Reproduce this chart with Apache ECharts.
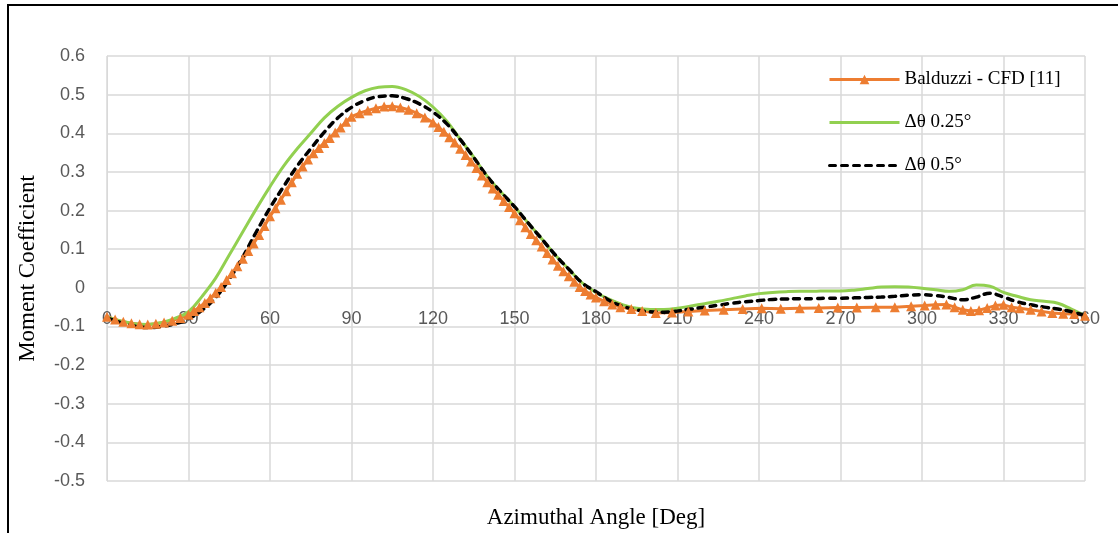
<!DOCTYPE html>
<html>
<head>
<meta charset="utf-8">
<title>Moment Coefficient</title>
<script src="https://cdn.jsdelivr.net/npm/echarts@6/dist/echarts.min.js"></script>
<style>
  html, body { margin: 0; padding: 0; background: #fff; }
  #chart { width: 1118px; height: 533px; }
</style>
</head>
<body>
<div id="chart"></div>
<script>
// Balduzzi - CFD [11]  (angle, Cm)
var balduzzi = [
  [0,-0.075],[3,-0.082],[6,-0.088],[9,-0.092],[12,-0.094],[15,-0.095],[18,-0.093],[21,-0.09],
  [24,-0.085],[27,-0.078],[30,-0.07],[32,-0.06],[34,-0.05],[36,-0.039],[38,-0.027],[40,-0.013],
  [42,0.002],[44,0.02],[46,0.038],[48,0.056],[50,0.075],[52,0.095],[54,0.115],[56,0.137],
  [58,0.16],[60,0.185],[62,0.206],[64,0.228],[66,0.25],[68,0.273],[70,0.295],[72,0.314],
  [74,0.332],[76,0.348],[78,0.362],[80,0.375],[82,0.388],[84,0.402],[86,0.415],[88,0.43],
  [90,0.443],[93,0.452],[96,0.459],[99,0.465],[102,0.469],[105,0.47],[108,0.467],[111,0.461],
  [114,0.452],[117,0.441],[120,0.428],[122,0.416],[124,0.404],[126,0.39],[128,0.376],[130,0.36],
  [132,0.344],[134,0.327],[136,0.31],[138,0.291],[140,0.273],[142,0.257],[144,0.241],[146,0.225],
  [148,0.209],[150,0.193],[152,0.175],[154,0.157],[156,0.139],[158,0.123],[160,0.107],[162,0.09],
  [164,0.073],[166,0.057],[168,0.043],[170,0.03],[172,0.016],[174,0.002],[176,-0.008],[178,-0.017],
  [180,-0.025],[183,-0.035],[186,-0.043],[189,-0.05],[193,-0.055],[197,-0.06],[202,-0.065],[208,-0.064],
  [214,-0.061],[220,-0.059],[227,-0.057],[234,-0.055],[241,-0.053],[248,-0.054],[255,-0.053],[262,-0.052],
  [269,-0.051],[276,-0.051],[283,-0.05],[290,-0.05],[296,-0.048],[301,-0.046],[305,-0.044],[309,-0.043],
  [312,-0.05],[315,-0.057],[318,-0.06],[321,-0.058],[324,-0.052],[327,-0.046],[330,-0.044],[333,-0.05],
  [336,-0.053],[340,-0.057],[344,-0.061],[348,-0.065],[352,-0.067],[356,-0.068],[360,-0.072]
];

// smooth curves sampled every 5 degrees
var angles = [];
for (var a = 0; a <= 360; a += 5) angles.push(a);

var dTheta025 = [
  -0.075,-0.086,-0.093,-0.095,-0.09,-0.079,-0.062,-0.022,0.025,0.085,
  0.145,0.205,0.262,0.315,0.36,0.4,0.44,0.47,0.493,0.51,
  0.519,0.521,0.513,0.495,0.468,0.432,0.385,0.338,0.288,0.248,
  0.21,0.168,0.127,0.085,0.048,0.012,-0.012,-0.03,-0.044,-0.053,
  -0.056,-0.056,-0.053,-0.047,-0.041,-0.035,-0.028,-0.021,-0.015,-0.012,
  -0.01,-0.009,-0.009,-0.008,-0.008,-0.006,-0.002,0.002,0.003,0.002,
  -0.001,-0.005,-0.009,-0.005,0.007,0.004,-0.012,-0.022,-0.031,-0.035,
  -0.04,-0.055,-0.072
];

var dTheta05 = [
  -0.078,-0.09,-0.099,-0.103,-0.1,-0.093,-0.08,-0.058,-0.025,0.022,
  0.08,0.145,0.207,0.262,0.315,0.36,0.403,0.44,0.467,0.485,
  0.495,0.497,0.49,0.476,0.455,0.425,0.384,0.337,0.288,0.248,
  0.21,0.168,0.127,0.085,0.048,0.012,-0.01,-0.033,-0.048,-0.057,
  -0.062,-0.063,-0.06,-0.055,-0.05,-0.045,-0.04,-0.036,-0.033,-0.03,
  -0.029,-0.028,-0.028,-0.027,-0.027,-0.026,-0.025,-0.024,-0.022,-0.019,
  -0.018,-0.02,-0.025,-0.031,-0.024,-0.014,-0.024,-0.036,-0.044,-0.05,
  -0.055,-0.062,-0.072
];

var seriesNames = ['Balduzzi - CFD [11]', '\u0394\u03b8 0.25\u00b0', '\u0394\u03b8 0.5\u00b0'];

function pair(xs, ys) {
  return xs.map(function (x, i) { return [x, ys[i]]; });
}

var chart = echarts.init(document.getElementById('chart'));
chart.setOption({
  backgroundColor: '#fff',
  animation: false,
  graphic: [{
    type: 'polyline',
    shape: { points: [[8, 533], [8, 5], [1118, 5]] },
    style: { stroke: '#000', lineWidth: 2, fill: null },
    silent: true
  }],
  grid: {
    left: 107, right: 33, top: 56, bottom: 52,
    containLabel: false,
    outerBoundsMode: 'none'
  },
  legend: {
    orient: 'vertical',
    left: 823,
    top: 65,
    itemWidth: 70,
    itemHeight: 12,
    itemGap: 24,
    lineStyle: { width: 3 },
    textStyle: { fontFamily: 'Liberation Serif', fontSize: 19, color: '#000' },
    data: [
      { name: seriesNames[0] },
      { name: seriesNames[1], itemStyle: { opacity: 0, color: 'transparent', borderWidth: 0 } },
      { name: seriesNames[2], itemStyle: { opacity: 0, color: 'transparent', borderWidth: 0 } }
    ]
  },
  xAxis: {
    type: 'value',
    min: 0,
    max: 360,
    interval: 30,
    position: 'bottom',
    offset: -193,   // axis sits on the zero line
    name: 'Azimuthal Angle [Deg]',
    nameLocation: 'middle',
    nameGap: 218,
    nameTextStyle: { fontFamily: 'Liberation Serif', fontSize: 23, color: '#000' },
    axisLine: { onZero: false, lineStyle: { color: '#d9d9d9', width: 1.5 } },
    axisTick: { show: false },
    axisLabel: { margin: 22, fontFamily: 'Liberation Sans', fontSize: 18, color: '#595959' },
    splitLine: { show: true, lineStyle: { color: '#d9d9d9', width: 1.5 } }
  },
  yAxis: {
    type: 'value',
    min: -0.5,
    max: 0.6,
    interval: 0.1,
    name: 'Moment Coefficient',
    nameLocation: 'middle',
    nameGap: 68,
    nameTextStyle: { fontFamily: 'Liberation Serif', fontSize: 23, color: '#000' },
    axisLine: { show: true, onZero: false, lineStyle: { color: '#d9d9d9', width: 1 } },
    axisTick: { show: false },
    axisLabel: {
      margin: 22, fontFamily: 'Liberation Sans', fontSize: 18, color: '#595959',
      formatter: function (v) { return String(Number(v.toFixed(1))); }
    },
    splitLine: { show: true, lineStyle: { color: '#d9d9d9', width: 1.5 } }
  },
  series: [
    {
      name: seriesNames[0],
      type: 'line',
      data: balduzzi,
      symbol: 'triangle',
      symbolSize: 10,
      itemStyle: { color: '#ED7D31' },
      lineStyle: { color: '#ED7D31', width: 3 }
    },
    {
      name: seriesNames[1],
      type: 'line',
      data: pair(angles, dTheta025),
      smooth: 0.4,
      symbol: 'none',
      itemStyle: { color: '#92D050' },
      lineStyle: { color: '#92D050', width: 3 }
    },
    {
      name: seriesNames[2],
      type: 'line',
      data: pair(angles, dTheta05),
      smooth: 0.4,
      symbol: 'none',
      itemStyle: { color: '#000' },
      lineStyle: { color: '#000', width: 3.5, type: [6, 6], cap: 'round' }
    }
  ]
});
</script>
</body>
</html>
